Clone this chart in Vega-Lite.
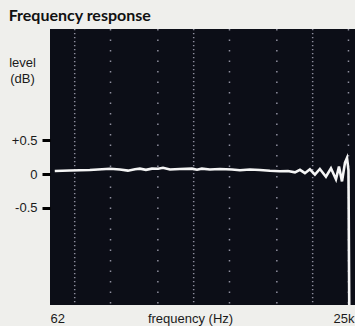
{
  "$schema": "https://vega.github.io/schema/vega-lite/v6.json",
  "autosize": {"type": "none"},
  "padding": {"left": 50, "top": 29, "right": 0, "bottom": 21},
  "width": 310,
  "height": 276,
  "background": "#efefec",
  "config": {
    "view": {"fill": "#0c0e17", "stroke": null},
    "font": "Liberation Sans"
  },
  "title": {
    "text": "Frequency response",
    "anchor": "start",
    "offset": 4,
    "font": "Lato",
    "fontSize": 16,
    "fontWeight": "bold",
    "color": "#111111"
  },
  "datasets": {
    "grid": [
      {"freq": 100, "kind": "dense"},
      {"freq": 200, "kind": "sparse"},
      {"freq": 500, "kind": "sparse"},
      {"freq": 1000, "kind": "dense"},
      {"freq": 2000, "kind": "sparse"},
      {"freq": 5000, "kind": "sparse"},
      {"freq": 10000, "kind": "dense"},
      {"freq": 20000, "kind": "sparse"}
    ],
    "response": [
      {"freq": 68, "level": 0.045},
      {"freq": 91, "level": 0.052},
      {"freq": 134, "level": 0.06},
      {"freq": 198, "level": 0.078},
      {"freq": 240, "level": 0.067},
      {"freq": 280, "level": 0.05},
      {"freq": 321, "level": 0.072},
      {"freq": 353, "level": 0.08},
      {"freq": 397, "level": 0.062},
      {"freq": 446, "level": 0.08},
      {"freq": 502, "level": 0.078},
      {"freq": 552, "level": 0.092},
      {"freq": 632, "level": 0.067},
      {"freq": 766, "level": 0.075},
      {"freq": 967, "level": 0.08},
      {"freq": 1066, "level": 0.063},
      {"freq": 1172, "level": 0.08},
      {"freq": 1368, "level": 0.067},
      {"freq": 1661, "level": 0.075},
      {"freq": 2096, "level": 0.067},
      {"freq": 2447, "level": 0.055},
      {"freq": 2970, "level": 0.067},
      {"freq": 3600, "level": 0.06},
      {"freq": 4370, "level": 0.048},
      {"freq": 5300, "level": 0.04},
      {"freq": 6200, "level": 0.045},
      {"freq": 7100, "level": 0.025},
      {"freq": 7820, "level": 0.062},
      {"freq": 8610, "level": 0.012},
      {"freq": 9480, "level": 0.07},
      {"freq": 10450, "level": -0.01},
      {"freq": 11500, "level": 0.075},
      {"freq": 12930, "level": -0.04},
      {"freq": 14250, "level": 0.085},
      {"freq": 15700, "level": -0.08},
      {"freq": 16640, "level": 0.11},
      {"freq": 17650, "level": -0.11},
      {"freq": 18700, "level": 0.17},
      {"freq": 19440, "level": 0.24},
      {"freq": 20000, "level": 0.06},
      {"freq": 20300, "level": -1.955}
    ]
  },
  "layer": [
    {
      "data": {"name": "grid"},
      "mark": {"type": "rule", "color": "#8e8e9e", "strokeWidth": 1.5},
      "encoding": {
        "x": {
          "field": "freq",
          "type": "quantitative",
          "scale": {"type": "log", "domain": [62, 25000], "nice": false},
          "axis": {
            "values": [62, 25000],
            "labelExpr": "datum.value > 1000 ? '25k' : '62'",
            "labelAlign": {"condition": {"test": "datum.value > 1000", "value": "right"}, "value": "left"},
            "labelOffset": {"condition": {"test": "datum.value > 1000", "value": -6}, "value": 0},
            "labelBaseline": "alphabetic",
            "labelFontSize": 13,
            "labelColor": "#1a1a1a",
            "labelPadding": 17,
            "tickSize": 0,
            "tickOpacity": 0,
            "domain": false,
            "grid": false,
            "title": "frequency (Hz)",
            "titleFontSize": 13,
            "titleFontWeight": "normal",
            "titleColor": "#1a1a1a",
            "titleX": 140,
            "titleY": 17,
            "titleBaseline": "alphabetic"
          }
        },
        "strokeDash": {
          "field": "kind",
          "type": "nominal",
          "scale": {"domain": ["dense", "sparse"], "range": [[1.3, 2.7], [1.5, 9]]},
          "legend": null
        }
      }
    },
    {
      "data": {"name": "response"},
      "mark": {"type": "line", "color": "#f5f5f5", "strokeWidth": 2.6},
      "encoding": {
        "x": {"field": "freq", "type": "quantitative"},
        "y": {
          "field": "level",
          "type": "quantitative",
          "scale": {"domain": [-1.955, 2.164], "nice": false, "zero": false},
          "axis": {
            "values": [-0.5, 0, 0.5],
            "labelExpr": "datum.value > 0 ? '+0.5' : (datum.value < 0 ? '-0.5' : '0')",
            "labelFontSize": 13,
            "labelColor": "#1a1a1a",
            "labelPadding": 5,
            "ticks": true,
            "tickColor": "#000000",
            "tickWidth": 3,
            "tickSize": 8,
            "domain": false,
            "grid": false,
            "title": ["level", "(dB)"],
            "titleAngle": 0,
            "titleAlign": "center",
            "titleBaseline": "alphabetic",
            "titleX": -28,
            "titleY": 37,
            "titleLineHeight": 16,
            "titleFontSize": 13,
            "titleFontWeight": "normal",
            "titleColor": "#1a1a1a"
          }
        }
      }
    }
  ]
}
